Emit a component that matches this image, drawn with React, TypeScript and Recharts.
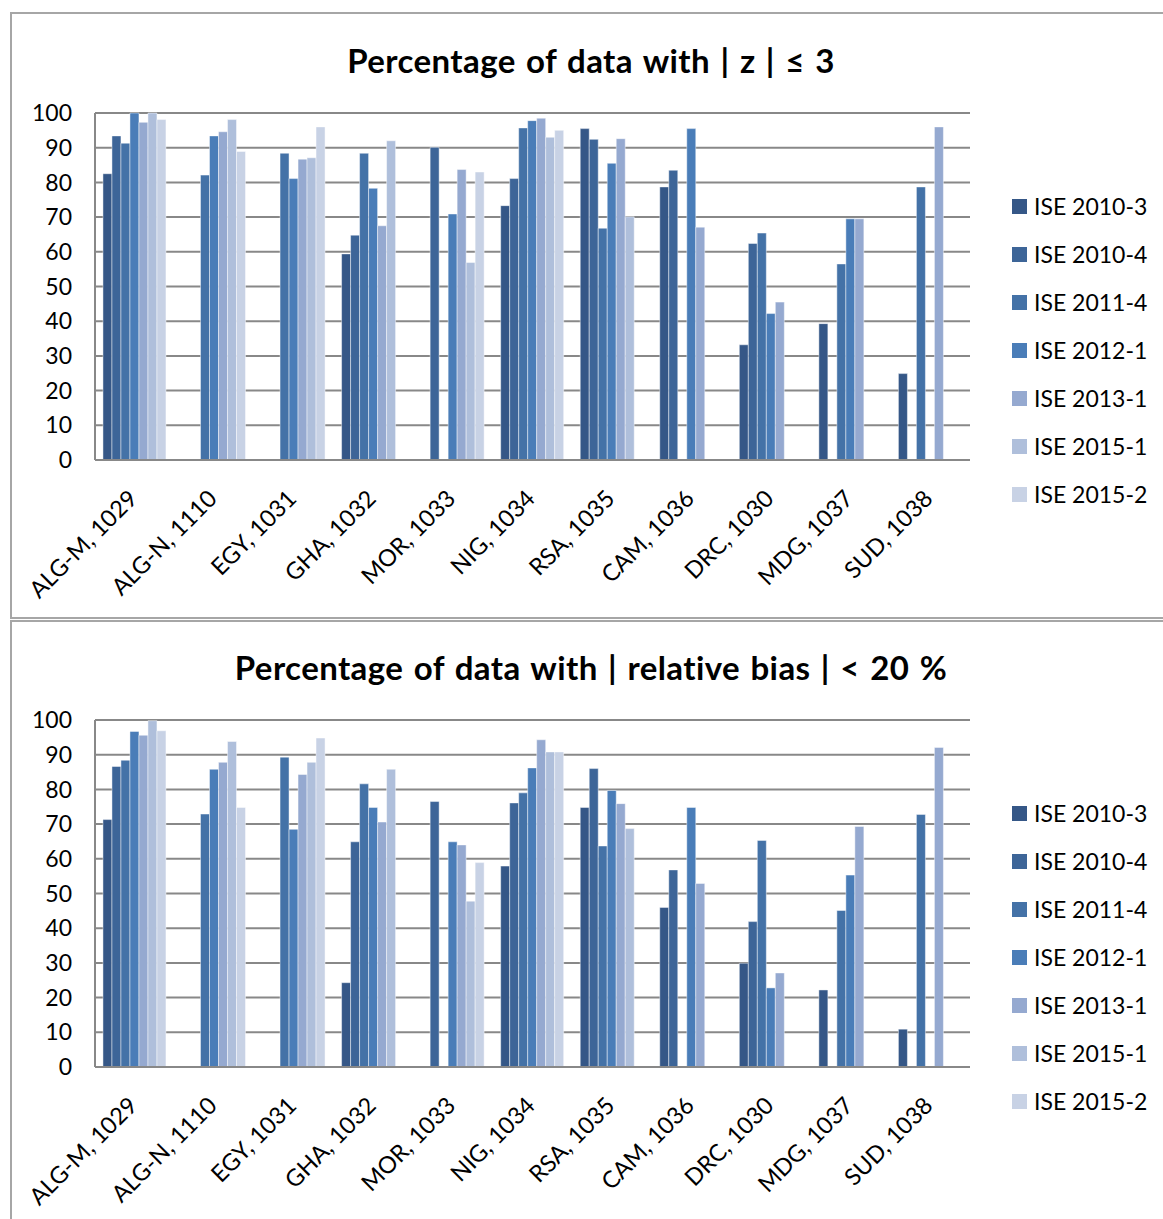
import React from 'react';
import { BarChart, Bar, XAxis, YAxis, CartesianGrid, Legend } from 'recharts';

const categories = [
  'ALG-M, 1029', 'ALG-N, 1110', 'EGY, 1031', 'GHA, 1032', 'MOR, 1033', 'NIG, 1034',
  'RSA, 1035', 'CAM, 1036', 'DRC, 1030', 'MDG, 1037', 'SUD, 1038',
];
const seriesNames = ['ISE 2010-3', 'ISE 2010-4', 'ISE 2011-4', 'ISE 2012-1', 'ISE 2013-1', 'ISE 2015-1', 'ISE 2015-2'];
const seriesColors = ['#355787', '#3d6598', '#4472a7', '#4a7db8', '#95a9d0', '#afbfdb', '#c8d2e5'];
const yTicks = [0, 10, 20, 30, 40, 50, 60, 70, 80, 90, 100];

const titleZ = 'Percentage of data with | z | ≤ 3';
const titleBias = 'Percentage of data with | relative bias | < 20 %';

// Chart 1: |z| <= 3
const z2010_3 = [82.5, null, null, 59.4, null, 73.3, 95.5, 78.7, 33.2, 39.3, 24.9];
const z2010_4 = [93.4, null, null, 64.8, 90.1, 81.1, 92.4, 83.5, 62.4, null, null];
const z2011_4 = [91.3, 82.1, 88.4, 88.4, null, 95.7, 66.8, null, 65.4, 56.5, 78.7];
const z2012_1 = [100, 93.4, 81.1, 78.3, 70.9, 97.8, 85.5, 95.5, 42.2, 69.5, null];
const z2013_1 = [97.3, 94.6, 86.7, 67.5, 83.7, 98.5, 92.6, 67.1, 45.5, 69.5, 96.0];
const z2015_1 = [100, 98.1, 87.1, 92.0, 56.9, 93.0, 70.1, null, null, null, null];
const z2015_2 = [98.1, 88.9, 96.0, null, 83.0, 95.0, null, null, null, null, null];

// Chart 2: |relative bias| < 20 %
const b2010_3 = [71.3, null, null, 24.3, null, 57.9, 74.8, 46.0, 29.9, 22.2, 10.9];
const b2010_4 = [86.6, null, null, 64.9, 76.5, 76.1, 86.0, 56.8, 41.9, null, null];
const b2011_4 = [88.4, 72.9, 89.3, 81.6, null, 79.0, 63.7, null, 65.3, 45.1, 72.8];
const b2012_1 = [96.7, 85.8, 68.5, 74.8, 64.9, 86.2, 79.7, 74.8, 22.8, 55.3, null];
const b2013_1 = [95.6, 87.8, 84.3, 70.6, 64.0, 94.3, 75.9, 52.9, 27.1, 69.3, 92.1];
const b2015_1 = [99.8, 93.8, 87.8, 85.8, 47.8, 90.8, 68.7, null, null, null, null];
const b2015_2 = [96.9, 74.8, 94.8, null, 58.9, 90.8, null, null, null, null, null];

const zSeries = [z2010_3, z2010_4, z2011_4, z2012_1, z2013_1, z2015_1, z2015_2];
const bSeries = [b2010_3, b2010_4, b2011_4, b2012_1, b2013_1, b2015_1, b2015_2];

const buildRows = (series: (number | null)[][]) =>
  categories.map((c, i) => {
    const row: Record<string, string | number | null> = { category: c };
    series.forEach((s, k) => {
      row['s' + k] = s[i];
    });
    return row;
  });

const FONT = "Lato, 'Open Sans', sans-serif";
const TICK_SIZE = 23;
const GRID = '#888888';

const XTick = (props: any) => {
  const { x, y, payload } = props;
  return (
    <g transform={`translate(${x + 4},${y + 40}) rotate(-45)`}>
      <text x={0} y={0} textAnchor="end" fontFamily={FONT} fontSize={TICK_SIZE + 0.5} fill="#000">
        {payload.value}
      </text>
    </g>
  );
};

const LegendContent = (props: any) => {
  const payload = props.payload || [];
  return (
    <div style={{ fontFamily: FONT }}>
      {payload.map((e: any, i: number) => (
        <div key={i} style={{ display: 'flex', alignItems: 'center', height: 48 }}>
          <span style={{ width: 15, height: 15, background: e.color, display: 'inline-block', marginRight: 7 }} />
          <span style={{ fontSize: TICK_SIZE, color: '#000', whiteSpace: 'nowrap' }}>{e.value}</span>
        </div>
      ))}
    </div>
  );
};

const Chart = ({ series, title }: { series: (number | null)[][]; title: string }) => {
  const data = buildRows(series);
  return (
    <div style={{ position: 'relative', width: 1163, height: 612 }}>
      <div
        style={{
          position: 'absolute',
          left: 0,
          width: 1182,
          top: 39,
          lineHeight: '42px',
          textAlign: 'center',
          fontFamily: FONT,
          fontWeight: 'bold',
          fontSize: 33,
          letterSpacing: 0.4,
          wordSpacing: 2,
          color: '#000',
          whiteSpace: 'nowrap',
        }}
      >
        {title}
      </div>
      <BarChart
        width={1163}
        height={612}
        data={data}
        margin={{ top: 113, right: 193, bottom: 0, left: 0 }}
        barCategoryGap="10%"
        barGap={0}
      >
        <CartesianGrid horizontal vertical={false} stroke={GRID} strokeWidth={2} />
        <XAxis
          dataKey="category"
          interval={0}
          height={152}
          tickLine={false}
          tickSize={0}
          tickMargin={0}
          axisLine={{ stroke: GRID, strokeWidth: 2 }}
          tick={<XTick />}
        />
        <YAxis
          type="number"
          domain={[0, 100]}
          ticks={yTicks}
          interval={0}
          width={95}
          tickLine={false}
          tickSize={0}
          tickMargin={23}
          axisLine={{ stroke: GRID, strokeWidth: 2 }}
          tick={{ fontFamily: FONT, fontSize: TICK_SIZE, fill: '#000' }}
        />
        <Legend
          layout="vertical"
          align="center"
          verticalAlign="middle"
          wrapperStyle={{ left: 1012, top: 182, width: 150 }}
          content={<LegendContent />}
        />
        {seriesNames.map((n, k) => (
          <Bar
            key={n}
            dataKey={'s' + k}
            name={n}
            fill={seriesColors[k]}
            stroke="rgba(255,255,255,0.45)"
            strokeWidth={1}
            isAnimationActive={false}
          />
        ))}
      </BarChart>
    </div>
  );
};

export default function App() {
  return (
    <div
      style={{
        position: 'fixed',
        left: 0,
        top: 0,
        width: 1163,
        height: 1219,
        overflow: 'hidden',
        background: '#fff',
      }}
    >
      <div
        style={{
          position: 'absolute',
          left: 10,
          top: 12,
          width: 1180,
          height: 603,
          border: '2px solid #a6a6a6',
        }}
      />
      <div
        style={{
          position: 'absolute',
          left: 10,
          top: 620,
          width: 1180,
          height: 700,
          border: '2px solid #a6a6a6',
        }}
      />
      <div style={{ position: 'absolute', left: 0, top: 0 }}>
        <Chart series={zSeries} title={titleZ} />
      </div>
      <div style={{ position: 'absolute', left: 0, top: 607 }}>
        <Chart series={bSeries} title={titleBias} />
      </div>
    </div>
  );
}
